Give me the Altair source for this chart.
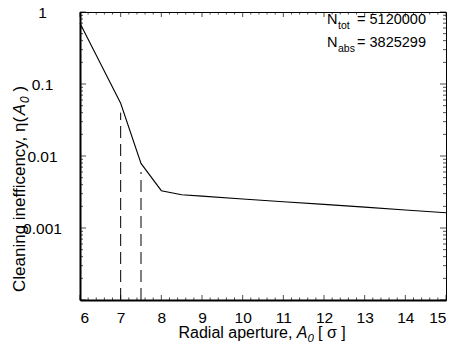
import altair as alt
import pandas as pd

# ---- data ----
aperture = [6, 7, 7.5, 8, 8.5, 9, 10, 11, 12, 13, 14, 15]
ineff = [0.70, 0.054, 0.0079, 0.0033, 0.0029, 0.00277, 0.00253, 0.00232, 0.00213, 0.00195, 0.00178, 0.00163]

dash_x = [7, 7.5]
dash_top = [0.04, 0.006]

x_major = [6, 7, 8, 9, 10, 11, 12, 13, 14, 15]
x_minor = [round(6 + 0.2 * i, 1) for i in range(46) if (i % 5) != 0]
y_major = [1e-4, 1e-3, 1e-2, 1e-1, 1]
y_minor = [m * d for d in [1e-4, 1e-3, 1e-2, 1e-1] for m in [2, 3, 4, 5, 6, 7, 8, 9]]
y_labels = [1, 0.1, 0.01, 0.001]

n_tot = "5120000"
n_abs = "3825299"

W, H = 366, 288
FONT = "Liberation Sans"
XDOM = [6, 15]
YDOM = [1e-4, 1]
NB = "\u00a0"

xs = alt.Scale(domain=XDOM, nice=False, zero=False)
ys = alt.Scale(type="log", domain=YDOM, nice=False)

df = pd.DataFrame({"x": aperture, "y": ineff})
main = alt.Chart(df).mark_line(color="black", strokeWidth=1.1).encode(
    x=alt.X("x:Q", scale=xs, axis=alt.Axis(values=x_major, title=None, ticks=False, tickSize=0,
                                          grid=False, labelPadding=10, domainWidth=2,
                                          domainColor="black", labelFont=FONT, labelFontSize=15.5,
                                          labelColor="black")),
    y=alt.Y("y:Q", scale=ys, axis=alt.Axis(values=y_labels, format="~g", title=None,
                                          ticks=False, tickSize=0, grid=False, labelPadding=38,
                                          labelAlign="center",
                                          domainWidth=2, domainColor="black", labelFont=FONT,
                                          labelFontSize=15.5, labelColor="black")),
)

dash_df = pd.DataFrame({"xd": dash_x, "y0": [YDOM[0]] * 2, "y1": dash_top})
dashes = alt.Chart(dash_df).mark_rule(color="black", strokeWidth=1, strokeDash=[12, 6]).encode(
    x=alt.X("xd:Q", scale=xs), y=alt.Y("y0:Q", scale=ys), y2="y1:Q"
)


def xticks(vals, length):
    d = pd.DataFrame({"xt": vals})
    bot = alt.Chart(d).mark_tick(color="black", thickness=1, size=length, orient="vertical").encode(
        x=alt.X("xt:Q", scale=xs), y=alt.value(H - length / 2))
    top = alt.Chart(d).mark_tick(color="black", thickness=1, size=length, orient="vertical").encode(
        x=alt.X("xt:Q", scale=xs), y=alt.value(length / 2))
    return [bot, top]


def yticks(vals, length):
    d = pd.DataFrame({"yt": vals})
    left = alt.Chart(d).mark_tick(color="black", thickness=1, size=length, orient="horizontal").encode(
        y=alt.Y("yt:Q", scale=ys), x=alt.value(length / 2))
    right = alt.Chart(d).mark_tick(color="black", thickness=1, size=length, orient="horizontal").encode(
        y=alt.Y("yt:Q", scale=ys), x=alt.value(W - length / 2))
    return [left, right]


ticks = xticks(x_major, 5) + xticks(x_minor, 2.5) + yticks(y_major, 6) + yticks(y_minor, 3)


def txt(s, x, y, size=15.5, align="left", angle=0, style="normal"):
    return alt.Chart(pd.DataFrame({"t": [s]})).mark_text(
        font=FONT, fontSize=size, align=align, baseline="alphabetic", angle=angle,
        fontStyle=style, color="black"
    ).encode(x=alt.value(x), y=alt.value(y), text="t:N")


# x title: "Radial aperture, A0 [ σ ]"
xt_y = 326
x_title = [
    txt("Radial aperture,", 98.5, xt_y, 16),
    txt("A", 216.8, xt_y, 16, style="italic"),
    txt("0", 227.5, xt_y + 4, 11.5, style="italic"),
    txt("[" + NB + "σ" + NB + "]", 238, xt_y, 16),
]

# y title (rotated)
yt_x = -55
y_title = [
    txt("Cleaning inefficency, η(", yt_x, 280, 17, angle=270),
    txt("A", yt_x, 103.3, 17, angle=270, style="italic"),
    txt("0", yt_x + 4, 91, 12, angle=270, style="italic"),
    txt(")", yt_x, 79.5, 17, angle=270),
]

ann = [
    txt("N", 257.5, 11.5, 14.5, align="right"),
    txt("tot", 258, 16.5, 10.5, align="left"),
    txt("= " + n_tot, 346, 11.5, 14.5, align="right"),
    txt("N", 257.5, 34.5, 14.5, align="right"),
    txt("abs", 258, 39.5, 10.5, align="left"),
    txt("= " + n_abs, 346, 34.5, 14.5, align="right"),
]

chart = alt.layer(main, dashes, *ticks, *x_title, *y_title, *ann).properties(
    width=W, height=H,
    autosize=alt.AutoSizeParams(type="none"),
    padding={"left": 80, "top": 12, "right": 10, "bottom": 52},
).configure_view(stroke="black", strokeWidth=1)

chart.save("out.html", embed_options={"renderer": "svg", "actions": False})
